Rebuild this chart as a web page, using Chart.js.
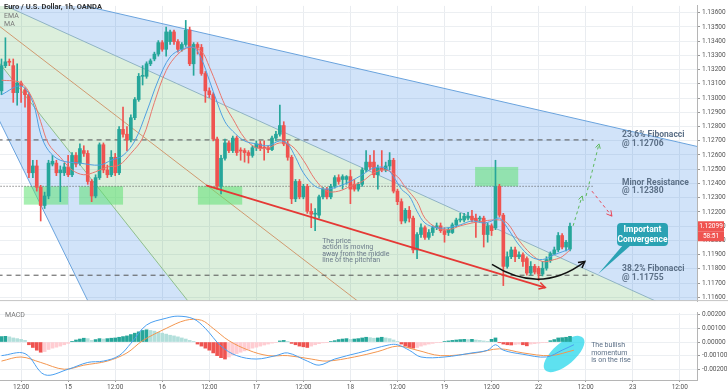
<!DOCTYPE html>
<html>
<head>
<meta charset="utf-8">
<script src="https://cdn.jsdelivr.net/npm/chart.js@4.4.0/dist/chart.umd.min.js"></script>
<style>
  body { margin: 0; background: #fff; }
  canvas { display: block; }
</style>
</head>
<body>
<canvas id="price" width="728" height="307"></canvas>
<canvas id="macd" width="728" height="84"></canvas>
<script>
// ---- data ----
const timeTicks = [5, 17, 29, 41, 53, 65, 77, 89, 101, 113, 125, 137, 149, 161, 173]
const timeLabels = ['12:00', '15', '12:00', '16', '12:00', '17', '12:00', '18', '12:00', '19', '12:00', '22', '12:00', '23', '12:00']
const priceTicks = [1.116, 1.117, 1.118, 1.119, 1.120, 1.121, 1.122, 1.123, 1.124, 1.125, 1.126, 1.127, 1.128, 1.129, 1.130, 1.131, 1.132, 1.133, 1.134, 1.135, 1.136]
const macdTicks = [0.002, 0.001, 0, -0.001, -0.002]

const opens = [
  1.13051, 1.13228, 1.13255, 1.13228, 1.13038, 1.13106, 1.13058, 1.13024, 1.12475, 1.12523,
  1.12373, 1.12245, 1.12312, 1.12536, 1.12543, 1.12475, 1.12475, 1.12516, 1.12461, 1.12597,
  1.12543, 1.12631, 1.12611, 1.12414, 1.12312, 1.12441, 1.12672, 1.12495, 1.12461, 1.12584,
  1.12475, 1.12780, 1.12746, 1.12706, 1.12862, 1.12990, 1.13153, 1.13153, 1.13241, 1.13275,
  1.13309, 1.13390, 1.13343, 1.13397, 1.13465, 1.13397, 1.13343, 1.13377, 1.13478, 1.13241,
  1.13377, 1.13356, 1.13173, 1.13051, 1.13024, 1.12712, 1.12380, 1.12577, 1.12685, 1.12631,
  1.12719, 1.12631, 1.12631, 1.12617, 1.12597, 1.12651, 1.12678, 1.12651, 1.12651, 1.12638,
  1.12719, 1.12746, 1.12807, 1.12678, 1.12584, 1.12292, 1.12414, 1.12306, 1.12380, 1.12204,
  1.12184, 1.12177, 1.12306, 1.12360, 1.12306, 1.12380, 1.12441, 1.12428, 1.12428, 1.12448,
  1.12394, 1.12360, 1.12394, 1.12495, 1.12550, 1.12550, 1.12461, 1.12509, 1.12495, 1.12523,
  1.12563, 1.12346, 1.12272, 1.12136, 1.12211, 1.12156, 1.11933, 1.12041, 1.12089, 1.12021,
  1.12055, 1.12089, 1.12102, 1.12068, 1.12055, 1.12055, 1.12109, 1.12143, 1.12143, 1.12156,
  1.12170, 1.12156, 1.12150, 1.12156, 1.12041, 1.12102, 1.12089, 1.12380, 1.12177, 1.11817,
  1.11885, 1.11933, 1.11885, 1.11899, 1.11872, 1.11770, 1.11817, 1.11804, 1.11763, 1.11804,
  1.11858, 1.11906, 1.11933, 1.12034, 1.11953, 1.11939
]
const highs = [
  1.13275, 1.13424, 1.13275, 1.13275, 1.13241, 1.13119, 1.13072, 1.13038, 1.12563, 1.12563,
  1.12387, 1.12339, 1.12563, 1.12597, 1.12563, 1.12523, 1.12543, 1.12597, 1.12617, 1.12617,
  1.12678, 1.12665, 1.12631, 1.12428, 1.12461, 1.12685, 1.12685, 1.12529, 1.12631, 1.12611,
  1.12800, 1.12936, 1.12800, 1.12882, 1.13004, 1.13173, 1.13228, 1.13255, 1.13275, 1.13323,
  1.13404, 1.13404, 1.13499, 1.13478, 1.13478, 1.13411, 1.13390, 1.13546, 1.13499, 1.13390,
  1.13390, 1.13377, 1.13187, 1.13072, 1.13038, 1.12726, 1.12597, 1.12712, 1.12699, 1.12733,
  1.12733, 1.12651, 1.12645, 1.12631, 1.12665, 1.12699, 1.12699, 1.12699, 1.12665, 1.12733,
  1.12767, 1.12950, 1.12834, 1.12699, 1.12597, 1.12428, 1.12428, 1.12394, 1.12394, 1.12258,
  1.12224, 1.12319, 1.12373, 1.12373, 1.12394, 1.12455, 1.12461, 1.12461, 1.12455, 1.12495,
  1.12428, 1.12407, 1.12509, 1.12631, 1.12597, 1.12631, 1.12529, 1.12631, 1.12550, 1.12617,
  1.12577, 1.12360, 1.12292, 1.12224, 1.12238, 1.12170, 1.12055, 1.12116, 1.12102, 1.12075,
  1.12102, 1.12122, 1.12122, 1.12089, 1.12089, 1.12122, 1.12156, 1.12190, 1.12190, 1.12197,
  1.12211, 1.12184, 1.12170, 1.12170, 1.12122, 1.12116, 1.12563, 1.12394, 1.12190, 1.11919,
  1.11953, 1.11953, 1.11919, 1.11912, 1.11885, 1.11851, 1.11831, 1.11817, 1.11851, 1.11885,
  1.11919, 1.11953, 1.12055, 1.12048, 1.12000, 1.12122
]
const lows = [
  1.13024, 1.13214, 1.13228, 1.12970, 1.12950, 1.12970, 1.12936, 1.12441, 1.12441, 1.12346,
  1.12136, 1.12224, 1.12292, 1.12523, 1.12455, 1.12272, 1.12455, 1.12448, 1.12448, 1.12516,
  1.12529, 1.12590, 1.12394, 1.12272, 1.12299, 1.12428, 1.12475, 1.12441, 1.12448, 1.12455,
  1.12461, 1.12726, 1.12631, 1.12692, 1.12848, 1.12977, 1.13092, 1.13139, 1.13228, 1.13262,
  1.13295, 1.13329, 1.13295, 1.13377, 1.13377, 1.13323, 1.13329, 1.13363, 1.13228, 1.13160,
  1.13309, 1.13160, 1.12970, 1.13004, 1.12699, 1.12360, 1.12326, 1.12563, 1.12617, 1.12617,
  1.12597, 1.12563, 1.12550, 1.12543, 1.12584, 1.12631, 1.12631, 1.12563, 1.12617, 1.12631,
  1.12699, 1.12733, 1.12665, 1.12563, 1.12258, 1.12272, 1.12292, 1.12292, 1.12190, 1.12089,
  1.12068, 1.12156, 1.12292, 1.12292, 1.12292, 1.12367, 1.12394, 1.12360, 1.12394, 1.12258,
  1.12346, 1.12346, 1.12380, 1.12482, 1.12495, 1.12441, 1.12360, 1.12482, 1.12482, 1.12495,
  1.12333, 1.12251, 1.12116, 1.12122, 1.12129, 1.11912, 1.11872, 1.12021, 1.12007, 1.12007,
  1.12034, 1.12075, 1.12055, 1.11987, 1.12034, 1.12048, 1.12095, 1.12129, 1.12129, 1.12143,
  1.12129, 1.12021, 1.12129, 1.11953, 1.11987, 1.12034, 1.12075, 1.12163, 1.11682, 1.11804,
  1.11872, 1.11851, 1.11872, 1.11817, 1.11756, 1.11756, 1.11763, 1.11716, 1.11750, 1.11790,
  1.11845, 1.11899, 1.11919, 1.11939, 1.11926, 1.11926
]
const closes = [
  1.13228, 1.13255, 1.13252, 1.13038, 1.13106, 1.13085, 1.13024, 1.12475, 1.12523, 1.12373,
  1.12245, 1.12312, 1.12543, 1.12556, 1.12475, 1.12495, 1.12516, 1.12461, 1.12597, 1.12536,
  1.12645, 1.12611, 1.12414, 1.12312, 1.12441, 1.12672, 1.12495, 1.12461, 1.12584, 1.12475,
  1.12780, 1.12746, 1.12706, 1.12862, 1.12990, 1.13153, 1.13160, 1.13241, 1.13262, 1.13309,
  1.13390, 1.13343, 1.13465, 1.13465, 1.13397, 1.13343, 1.13377, 1.13478, 1.13241, 1.13377,
  1.13356, 1.13173, 1.13051, 1.13024, 1.12712, 1.12380, 1.12577, 1.12685, 1.12631, 1.12719,
  1.12617, 1.12628, 1.12617, 1.12597, 1.12651, 1.12678, 1.12651, 1.12648, 1.12638, 1.12719,
  1.12746, 1.12807, 1.12678, 1.12584, 1.12292, 1.12414, 1.12306, 1.12380, 1.12204, 1.12184,
  1.12190, 1.12306, 1.12360, 1.12306, 1.12380, 1.12441, 1.12414, 1.12448, 1.12448, 1.12360,
  1.12360, 1.12394, 1.12495, 1.12550, 1.12516, 1.12461, 1.12509, 1.12495, 1.12523, 1.12563,
  1.12346, 1.12272, 1.12136, 1.12211, 1.12156, 1.11933, 1.12041, 1.12089, 1.12021, 1.12055,
  1.12089, 1.12102, 1.12068, 1.12041, 1.12075, 1.12109, 1.12143, 1.12150, 1.12170, 1.12170,
  1.12143, 1.12136, 1.12156, 1.12041, 1.12102, 1.12068, 1.12380, 1.12177, 1.11817, 1.11885,
  1.11933, 1.11885, 1.11899, 1.11851, 1.11770, 1.11817, 1.11777, 1.11763, 1.11804, 1.11865,
  1.11906, 1.11933, 1.12034, 1.11953, 1.11987, 1.12099
]

// moving averages, [candle, price]
const emaPoints = [
  [0, 1.13024], [5, 1.13085], [8, 1.12970], [10, 1.12746], [12, 1.12631], [15, 1.12563], [20, 1.12543],
  [25, 1.12529], [28, 1.12563], [31, 1.12597], [34, 1.12699], [37, 1.12902], [40, 1.13126], [43, 1.13289],
  [46, 1.13343], [49, 1.13356], [51, 1.13275], [53, 1.13126], [55, 1.12970], [57, 1.12834], [59, 1.12767],
  [62, 1.12699], [65, 1.12678], [68, 1.12665], [71, 1.12699], [73, 1.12678], [75, 1.12584], [77, 1.12475],
  [80, 1.12380], [83, 1.12360], [86, 1.12380], [89, 1.12414], [92, 1.12461], [95, 1.12509], [98, 1.12509],
  [100, 1.12448], [102, 1.12360], [104, 1.12312], [106, 1.12204], [108, 1.12122], [111, 1.12089],
  [114, 1.12089], [117, 1.12109], [120, 1.12136], [123, 1.12122], [125, 1.12136], [127, 1.12156],
  [129, 1.12089], [132, 1.11967], [135, 1.11885], [138, 1.11865], [141, 1.11899], [143, 1.11919], [145, 1.11939]
]
const maPoints = [
  [0, 1.13126], [5, 1.13106], [8, 1.12990], [10, 1.12834], [12, 1.12678], [15, 1.12584], [18, 1.12495],
  [21, 1.12461], [24, 1.12482], [27, 1.12516], [30, 1.12529], [33, 1.12611], [36, 1.12719], [39, 1.12970],
  [42, 1.13194], [45, 1.13309], [48, 1.13356], [51, 1.13329], [53, 1.13221], [55, 1.13085], [57, 1.12950],
  [59, 1.12855], [62, 1.12719], [65, 1.12651], [68, 1.12651], [71, 1.12685], [74, 1.12665], [77, 1.12563],
  [80, 1.12428], [83, 1.12346], [86, 1.12346], [89, 1.12380], [92, 1.12414], [95, 1.12475], [98, 1.12495],
  [101, 1.12448], [103, 1.12373], [106, 1.12272], [108, 1.12156], [111, 1.12089], [114, 1.12075],
  [117, 1.12102], [120, 1.12122], [123, 1.12136], [125, 1.12143], [127, 1.12143], [129, 1.12122],
  [132, 1.12000], [135, 1.11906], [138, 1.11851], [141, 1.11865], [143, 1.11885], [145, 1.11933]
]

const macdHist = [
  0.00040, 0.00042, 0.00038, 0.00030, 0.00025, 0.00020, 0.00012, -0.00020, -0.00040, -0.00060,
  -0.00075, -0.00070, -0.00055, -0.00045, -0.00038, -0.00030, -0.00020, -0.00010, 0.00005, 0.00015,
  0.00022, 0.00028, 0.00025, 0.00012, 0.00018, 0.00025, 0.00022, 0.00025, 0.00028, 0.00030,
  0.00035, 0.00040, 0.00045, 0.00055, 0.00065, 0.00075, 0.00085, 0.00090, 0.00085, 0.00080,
  0.00072, 0.00065, 0.00058, 0.00050, 0.00045, 0.00038, 0.00030, 0.00022, 0.00012, 0.00005,
  -0.00015, -0.00030, -0.00045, -0.00060, -0.00080, -0.00100, -0.00115, -0.00125, -0.00110, -0.00095,
  -0.00085, -0.00075, -0.00065, -0.00055, -0.00045, -0.00038, -0.00030, -0.00022, -0.00015, -0.00008,
  -0.00003, 0.00008, 0.00012, 0.00005, -0.00010, -0.00020, -0.00030, -0.00035, -0.00040, -0.00030,
  -0.00020, -0.00012, -0.00006, -0.00002, 0.00003, 0.00010, 0.00018, 0.00022, 0.00025, 0.00020,
  0.00022, 0.00025, 0.00030, 0.00035, 0.00032, 0.00028, 0.00030, 0.00035, 0.00030, 0.00025,
  0.00015, 0.00005, -0.00015, -0.00030, -0.00040, -0.00045, -0.00040, -0.00030, -0.00022, -0.00015,
  -0.00010, -0.00005, -0.00002, 0.00003, 0.00008, 0.00012, 0.00015, 0.00018, 0.00020, 0.00018,
  0.00020, 0.00015, 0.00012, 0.00008, 0.00005, 0.00020, 0.00030, -0.00005, -0.00015, -0.00020,
  -0.00022, -0.00018, -0.00015, -0.00020, -0.00028, -0.00015, -0.00012, -0.00008, -0.00005, -0.00002,
  0.00010, 0.00018, 0.00030, 0.00032, 0.00035, 0.00042
]
const macdLine = [
  [0, -0.0010], [6, -0.00085], [11, -0.0024], [17, -0.0020], [22, -0.0015], [26, -0.0014], [30, -0.0010],
  [33, -0.0001], [37, 0.00125], [42, 0.00175], [45, 0.0019], [49, 0.0017], [52, 0.0010], [56, -0.0003],
  [60, -0.0010], [65, -0.00125], [70, -0.0010], [73, -0.0008], [78, -0.0014], [81, -0.0017], [85, -0.00125],
  [91, -0.0008], [99, -0.0002], [101, -0.0002], [104, -0.0006], [107, -0.0011], [113, -0.0011],
  [120, -0.0008], [124, -0.0006], [126, -0.0002], [128, -0.0006], [133, -0.0009], [139, -0.0011],
  [143, -0.0006], [146, -0.0002]
]
const signalLine = [
  [0, -0.0014], [5, -0.0011], [10, -0.0015], [16, -0.0020], [21, -0.0017], [27, -0.0014], [32, -0.0008],
  [36, 0.0001], [42, 0.0010], [47, 0.0016], [51, 0.0016], [54, 0.0010], [58, 0.0001], [63, -0.0006],
  [68, -0.0010], [73, -0.0010], [79, -0.00125], [83, -0.0014], [90, -0.0011], [96, -0.0007],
  [101, -0.0003], [106, -0.0006], [112, -0.0010], [121, -0.0008], [127, -0.0005], [133, -0.0008],
  [140, -0.0010], [146, -0.0006]
]

const fibLevels = [1.12706, 1.12380, 1.11755]
const countdown = '58:51'

// ---- drawings on the chart, in [candle, price] ----
const fanOrigin = [-19.5, 1.13906]
const fanEnds = [[185.8, 1.12607], [185.8, 1.11336], [121.0, 1.10936], [65.9, 1.10936], [33.4, 1.10936]]
const zones = [
  [[5.7, 1.12380], [17.0, 1.12251]],
  [[19.8, 1.12380], [31.0, 1.12251]],
  [[50.1, 1.12380], [61.4, 1.12251]],
  [[120.8, 1.12516], [131.8, 1.12380]]
]
const trendLine = [[52.2, 1.12387], [138.7, 1.11668]]
const bullPath = [[145.8, 1.12102], [148.1, 1.12312]]
const bullPath2 = [[149.1, 1.12312], [152.4, 1.12678]]
const bearPath = [[150.6, 1.12346], [155.7, 1.12170]]
const curve = [[125.1, 1.11831], [137.4, 1.11614], [148.8, 1.11851]]
const callout = { box: [[157.0, 1.12122], [170.0, 1.11960]], tail: [152.2, 1.11763] }

const X_MIN = -0.38, X_MAX = 177.4

Chart.defaults.font.family = 'Roboto'
Chart.defaults.color = '#555'

function arrowHead(ctx, x0, y0, x1, y1, size) {
  let a = Math.atan2(y1 - y0, x1 - x0)
  ctx.beginPath()
  ctx.moveTo(x1 - size * Math.cos(a - 0.5), y1 - size * Math.sin(a - 0.5))
  ctx.lineTo(x1, y1)
  ctx.lineTo(x1 - size * Math.cos(a + 0.5), y1 - size * Math.sin(a + 0.5))
  ctx.stroke()
}

const priceDecor = {
  id: 'priceDecor',
  beforeDatasetsDraw(chart) {
    let ctx = chart.ctx, a = chart.chartArea
    let P = pt => [chart.scales.x.getPixelForValue(pt[0]), chart.scales.y.getPixelForValue(pt[1])]
    ctx.save()
    ctx.beginPath(); ctx.rect(a.left, a.top, a.width, a.height); ctx.clip()

    let o = P(fanOrigin), e = fanEnds.map(P)
    let poly = (pts, col) => {
      ctx.beginPath(); ctx.moveTo(pts[0][0], pts[0][1])
      pts.slice(1).forEach(p => ctx.lineTo(p[0], p[1]))
      ctx.closePath(); ctx.fillStyle = col; ctx.fill()
    }
    poly([o, e[0], e[1]], 'rgba(40,125,225,0.21)')
    poly([o, e[1], [e[1][0], e[2][1]], e[3]], 'rgba(80,175,80,0.2)')
    poly([o, e[3], e[4]], 'rgba(40,125,225,0.21)')

    let fanCols = ['#6aa3dd', '#8fb3c4', '#d09a70', '#8fbf8c', '#6aa3dd']
    e.forEach((p, i) => {
      ctx.beginPath(); ctx.moveTo(o[0], o[1]); ctx.lineTo(p[0], p[1])
      ctx.strokeStyle = fanCols[i]; ctx.lineWidth = 1; ctx.stroke()
    })

    zones.forEach(z => {
      let p0 = P(z[0]), p1 = P(z[1])
      ctx.fillStyle = 'rgba(95,225,115,0.55)'
      ctx.fillRect(p0[0], p0[1], p1[0] - p0[0], p1[1] - p0[1])
    })
    ctx.restore()
  },
  afterDatasetsDraw(chart) {
    let ctx = chart.ctx
    let P = pt => [chart.scales.x.getPixelForValue(pt[0]), chart.scales.y.getPixelForValue(pt[1])]
    ctx.save()

    // red trend arrow head
    let t0 = P(trendLine[0]), t1 = P(trendLine[1])
    ctx.strokeStyle = '#e53935'; ctx.lineWidth = 1.5
    arrowHead(ctx, t0[0], t0[1], t1[0], t1[1], 7)

    // projected paths
    ctx.lineWidth = 1
    ctx.strokeStyle = '#5cb85c'
    ;[bullPath, bullPath2].forEach(path => {
      let a = P(path[0]), b = P(path[1])
      ctx.setLineDash([3, 3])
      ctx.beginPath(); ctx.moveTo(a[0], a[1]); ctx.lineTo(b[0], b[1]); ctx.stroke()
      ctx.setLineDash([])
      arrowHead(ctx, a[0], a[1], b[0], b[1], 5)
    })
    let r0 = P(bearPath[0]), r1 = P(bearPath[1])
    ctx.strokeStyle = '#e8485a'
    ctx.setLineDash([3, 3])
    ctx.beginPath(); ctx.moveTo(r0[0], r0[1]); ctx.lineTo(r1[0], r1[1]); ctx.stroke()
    ctx.setLineDash([])
    arrowHead(ctx, r0[0], r0[1], r1[0], r1[1], 6)

    // black curved arrow
    let c0 = P(curve[0]), c1 = P(curve[1]), c2 = P(curve[2])
    ctx.strokeStyle = '#111'; ctx.lineWidth = 1.5
    ctx.beginPath(); ctx.moveTo(c0[0], c0[1]); ctx.quadraticCurveTo(c1[0], c1[1], c2[0], c2[1]); ctx.stroke()
    arrowHead(ctx, c1[0] + (c2[0] - c1[0]) * 0.8, c1[1] + (c2[1] - c1[1]) * 0.8, c2[0], c2[1], 7)

    // callout
    let b0 = P(callout.box[0]), b1 = P(callout.box[1]), tl = P(callout.tail)
    ctx.fillStyle = '#2aa2b3'
    ctx.beginPath()
    ctx.moveTo(b0[0] + 6, b1[1] - 1); ctx.lineTo(tl[0], tl[1]); ctx.lineTo(b0[0] + 14, b1[1] - 1)
    ctx.closePath(); ctx.fill()
    ctx.beginPath(); ctx.roundRect(b0[0], b0[1], b1[0] - b0[0], b1[1] - b0[1], 4); ctx.fill()
    ctx.fillStyle = '#fff'; ctx.font = 'bold 8.5px Roboto'; ctx.textAlign = 'center'; ctx.textBaseline = 'middle'
    let cx = (b0[0] + b1[0]) / 2, cy = (b0[1] + b1[1]) / 2
    ctx.fillText('Important', cx, cy - 5)
    ctx.fillText('Convergence', cx, cy + 5)

    // level labels
    ctx.textAlign = 'left'; ctx.fillStyle = '#5b6f86'; ctx.font = 'bold 8.5px Roboto'
    let lx = chart.scales.x.getPixelForValue(158.3)
    let lab = [['23.6% Fibonacci', '@ 1.12706', 1.12739], ['Minor Resistance', '@ 1.12380', 1.12407], ['38.2% Fibonacci', '@ 1.11755', 1.11797]]
    lab.forEach(l => {
      let y = chart.scales.y.getPixelForValue(l[2])
      ctx.fillText(l[0], lx, y)
      ctx.fillText(l[1], lx, y + 8.5)
    })

    // note
    ctx.font = '7px Roboto'; ctx.fillStyle = '#6b7a8a'
    let nx = chart.scales.x.getPixelForValue(81.8), ny = chart.scales.y.getPixelForValue(1.11994)
    ;['The price', 'action is moving', 'away from the middle', 'line of the pitchfan'].forEach((s, i) => ctx.fillText(s, nx, ny + i * 6.5))

    // title
    ctx.textBaseline = 'middle'
    ctx.font = 'bold 7.5px Roboto'; ctx.fillStyle = '#333'
    ctx.fillText('Euro / U.S. Dollar, 1h, OANDA', 4, 7)
    ctx.font = '7px Roboto'; ctx.fillStyle = '#777'
    ctx.fillText('EMA', 4, 16)
    ctx.fillText('MA', 4, 24)
    ctx.restore()
  },
  afterDraw(chart) {
    let ctx = chart.ctx, a = chart.chartArea
    ctx.save()
    let y = chart.scales.y.getPixelForValue(closes[closes.length - 1])
    ctx.fillStyle = '#ef5350'
    ctx.fillRect(a.right + 1, y - 5, 26, 10)
    ctx.fillRect(a.right + 1, y + 5, 26, 10)
    ctx.fillStyle = '#fff'; ctx.font = '6.5px Roboto'; ctx.textAlign = 'center'; ctx.textBaseline = 'middle'
    ctx.fillText(closes[closes.length - 1].toFixed(5), a.right + 14, y)
    ctx.fillText(countdown, a.right + 14, y + 10)
    ctx.strokeStyle = '#c4c4c4'; ctx.lineWidth = 1
    ctx.beginPath(); ctx.moveTo(0, a.bottom - 0.5); ctx.lineTo(728, a.bottom - 0.5); ctx.stroke()
    ctx.restore()
  }
}

const candleColor = closes.map((c, i) => c >= opens[i] ? '#26a69a' : '#ef5350')

new Chart(document.getElementById('price'), {
  type: 'bar',
  data: {
    datasets: [
      {
        type: 'line',
        data: [{ x: -1, y: fibLevels[0] }, { x: 151, y: fibLevels[0] }],
        borderColor: '#555', borderWidth: 1, borderDash: [5, 4], pointRadius: 0, order: 5
      },
      {
        type: 'line',
        data: [{ x: -1, y: fibLevels[1] }, { x: 151, y: fibLevels[1] }],
        borderColor: '#555', borderWidth: 1, borderDash: [1, 2], pointRadius: 0, order: 5
      },
      {
        type: 'line',
        data: [{ x: -1, y: fibLevels[2] }, { x: 151, y: fibLevels[2] }],
        borderColor: '#555', borderWidth: 1, borderDash: [5, 4], pointRadius: 0, order: 5
      },
      {
        label: 'wicks',
        data: closes.map((c, i) => ({ x: i, y: [lows[i], highs[i]] })),
        backgroundColor: candleColor, barThickness: 1, grouped: false, order: 4
      },
      {
        label: 'bodies',
        data: closes.map((c, i) => ({ x: i, y: [opens[i], c] })),
        backgroundColor: candleColor, barThickness: 3, grouped: false, minBarLength: 1, order: 3
      },
      {
        type: 'line', label: 'EMA',
        data: emaPoints.map(p => ({ x: p[0], y: p[1] })),
        borderColor: '#4f9fe0', borderWidth: 1, pointRadius: 0, tension: 0.35, order: 2
      },
      {
        type: 'line', label: 'MA',
        data: maPoints.map(p => ({ x: p[0], y: p[1] })),
        borderColor: '#e8766d', borderWidth: 1, pointRadius: 0, tension: 0.35, order: 2
      },
      {
        type: 'line',
        data: trendLine.map(p => ({ x: p[0], y: p[1] })),
        borderColor: '#e53935', borderWidth: 1.8, pointRadius: 0, order: 1
      }
    ]
  },
  options: {
    responsive: false,
    animation: false,
    events: [],
    layout: { padding: 0 },
    plugins: { legend: { display: false }, tooltip: { enabled: false } },
    scales: {
      x: {
        type: 'linear', min: X_MIN, max: X_MAX, offset: false,
        afterBuildTicks: s => { s.ticks = timeTicks.map(v => ({ value: v })) },
        ticks: { display: false },
        grid: { color: '#e9ecf0', drawTicks: false, offset: false },
        border: { display: false },
        afterFit: s => { s.height = 0 }
      },
      y: {
        position: 'right', min: 1.11573, max: 1.13648,
        afterBuildTicks: s => { s.ticks = priceTicks.map(v => ({ value: v })) },
        ticks: { callback: v => v.toFixed(5), font: { size: 6.5 }, color: '#555', padding: 2 },
        grid: { color: '#eceff2', tickLength: 3, tickColor: '#999' },
        border: { color: '#b5b5b5' },
        afterFit: s => { s.width = 31 }
      }
    }
  },
  plugins: [priceDecor]
})

const macdDecor = {
  id: 'macdDecor',
  beforeDatasetsDraw(chart) {
    let ctx = chart.ctx
    let P = pt => [chart.scales.x.getPixelForValue(pt[0]), chart.scales.y.getPixelForValue(pt[1])]
    ctx.save()
    let c = P([143.5, -0.00088])
    ctx.fillStyle = 'rgba(40,215,235,0.75)'
    ctx.beginPath(); ctx.ellipse(c[0], c[1], 25, 11, -0.7, 0, Math.PI * 2); ctx.fill()
    ctx.restore()
  },
  afterDatasetsDraw(chart) {
    let ctx = chart.ctx
    let P = pt => [chart.scales.x.getPixelForValue(pt[0]), chart.scales.y.getPixelForValue(pt[1])]
    ctx.save()
    ctx.font = '7px Roboto'; ctx.fillStyle = '#5b6f86'; ctx.textBaseline = 'middle'
    let t = P([150.4, -0.00027])
    ;['The bullish', 'momentum', 'is on the rise'].forEach((s, i) => ctx.fillText(s, t[0], t[1] + i * 7.5))
    ctx.fillStyle = '#777'
    ctx.fillText('MACD', 5, 8)
    ctx.restore()
  }
}

const histColor = macdHist.map((v, i) => {
  let prev = i > 0 ? macdHist[i - 1] : v
  if (v >= 0) return v >= prev ? '#26a69a' : '#b2dfdb'
  return v <= prev ? '#ef5350' : '#ffcdd2'
})

new Chart(document.getElementById('macd'), {
  type: 'bar',
  data: {
    datasets: [
      {
        data: macdHist.map((v, i) => ({ x: i, y: v })),
        backgroundColor: histColor, barThickness: 3, grouped: false, order: 3
      },
      {
        type: 'line', label: 'MACD',
        data: macdLine.map(p => ({ x: p[0], y: p[1] })),
        borderColor: '#4a9ff0', borderWidth: 1, pointRadius: 0, tension: 0.35, order: 1
      },
      {
        type: 'line', label: 'Signal',
        data: signalLine.map(p => ({ x: p[0], y: p[1] })),
        borderColor: '#f3964f', borderWidth: 1, pointRadius: 0, tension: 0.35, order: 1
      }
    ]
  },
  options: {
    responsive: false,
    animation: false,
    events: [],
    layout: { padding: 0 },
    plugins: { legend: { display: false }, tooltip: { enabled: false } },
    scales: {
      x: {
        type: 'linear', min: X_MIN, max: X_MAX, offset: false,
        afterBuildTicks: s => { s.ticks = timeTicks.map(v => ({ value: v })) },
        ticks: { callback: (v, i) => timeLabels[i], font: { size: 6.5 }, color: '#555', padding: 1, maxRotation: 0, autoSkip: false },
        grid: { color: '#e9ecf0', tickLength: 2, tickColor: '#999', offset: false },
        border: { color: '#b5b5b5' },
        afterFit: s => { s.height = 11 }
      },
      y: {
        position: 'right', min: -0.00279, max: 0.00214,
        afterBuildTicks: s => { s.ticks = macdTicks.map(v => ({ value: v })) },
        ticks: { callback: v => v.toFixed(5), font: { size: 6.5 }, color: '#555', padding: 2 },
        grid: { color: '#eceff2', tickLength: 3, tickColor: '#999' },
        border: { color: '#b5b5b5' },
        afterFit: s => { s.width = 31 }
      }
    }
  },
  plugins: [macdDecor]
})
</script>
</body>
</html>
